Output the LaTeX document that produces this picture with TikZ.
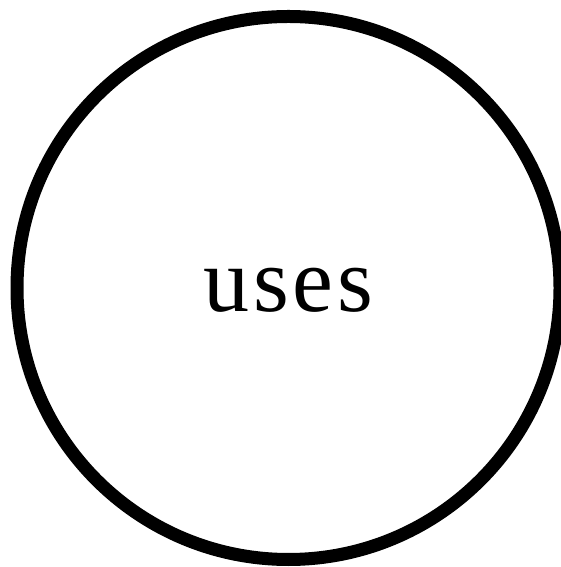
\documentclass[tikz,border=0pt]{standalone}
\usepackage{fontspec}
\setmainfont{Liberation Serif}
\usepackage{tikz}
\usetikzlibrary{positioning}

\begin{document}
\begin{tikzpicture}[
  x=1pt, y=1pt,
  rel/.style={draw, circle, line width=13pt, minimum size=543pt, inner sep=0pt,
              text height=48pt, text depth=0pt,
              font=\fontsize{92}{92}\selectfont\addfontfeatures{LetterSpace=4}},
]
%% ── Frame ───────────────────────────────────────────────────────────────
\useasboundingbox (0,0) rectangle (560,567);

%% ── Relationship ────────────────────────────────────────────────────────
\node[rel] (uses) at (288.5, 279) {uses};
\end{tikzpicture}
\end{document}
